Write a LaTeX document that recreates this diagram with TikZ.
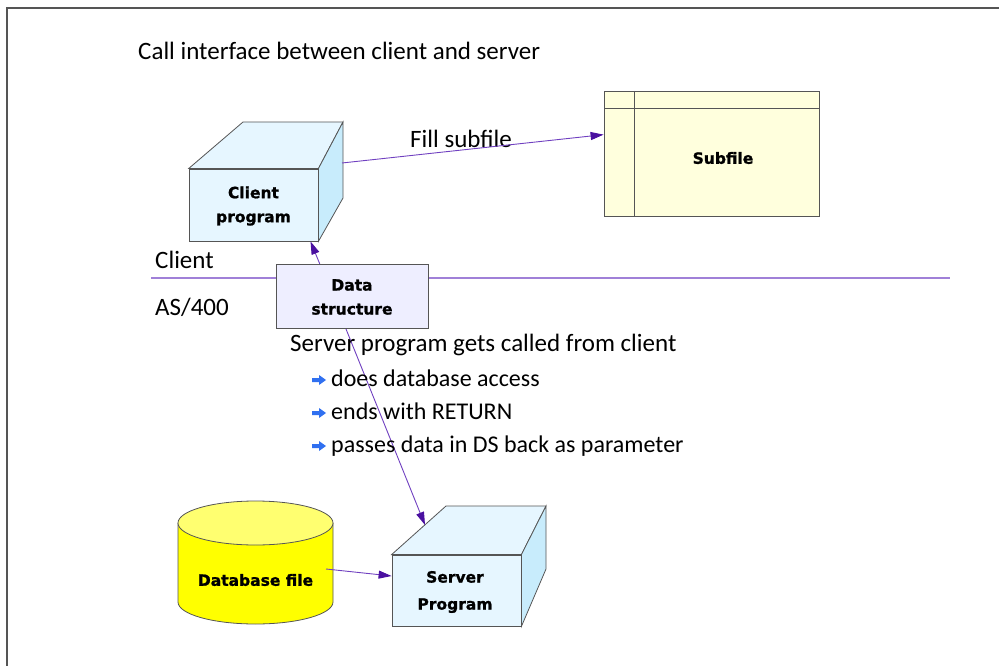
\documentclass[tikz,border=0pt]{standalone}
\usepackage{fontspec}
\usetikzlibrary{arrows.meta,calc}
\newfontfamily\hfont{Carlito}
\newfontfamily\bfont{DejaVu Sans}[BoldFeatures={FakeBold=1.2}]
\definecolor{frame}{HTML}{555555}
\definecolor{boxfront}{HTML}{E6F6FF}
\definecolor{boxside}{HTML}{C8ECFC}
\definecolor{dsfill}{HTML}{EEEEFF}
\definecolor{subfill}{HTML}{FFFFDD}
\definecolor{dbtop}{HTML}{FFFF70}
\definecolor{dbbody}{HTML}{FFFF00}
\definecolor{conn}{HTML}{7040C0}
\definecolor{tip}{HTML}{4A10A0}
\definecolor{divline}{HTML}{A080D8}
\definecolor{bullet}{HTML}{3070F0}
\tikzset{
  edge/.style={draw=frame, line width=0.8pt},
  connector/.style={draw=conn, line width=0.9pt, -{Triangle[length=13pt,width=8pt,fill=tip,color=tip]}},
  boxtext/.style={font={\bfont\bfseries\fontsize{15.5}{24}\selectfont}, align=center, text=black},
  bigtext/.style={font={\hfont\fontsize{25}{30}\selectfont}, anchor=base west, inner sep=0pt},
  smalltext/.style={font={\hfont\fontsize{24}{28}\selectfont}, anchor=base west, inner sep=0pt},
  bul/.style={fill=bullet, draw=none}
}
\newcommand{\bularrow}[2]{%
  \fill[bul] (#1,#2+-2) -- (#1+7,#2+-2) -- (#1+7,#2+-5) -- (#1+14,#2) -- (#1+7,#2+5) -- (#1+7,#2+2) -- (#1,#2+2) -- cycle;}
\begin{document}
\begin{tikzpicture}[x=1pt,y=-1pt]
\useasboundingbox (0,0) rectangle (999,666);
% frame
\draw[frame, line width=1.5pt] (7,666) -- (7,8) -- (999,8);

% title
\node[bigtext] (title) at (138,60) {Call interface between client and server};

% client program box
\node[edge, fill=boxfront, minimum width=129, minimum height=72, inner sep=0pt] (client) at (253.5,205) {};
\filldraw[edge, fill=boxfront] (client.north west) -- (243,122) -- (343,122) -- (client.north east) -- cycle;
\filldraw[edge, fill=boxside] (client.north east) -- (343,122) -- (343,198) -- (client.south east) -- cycle;
\node[boxtext] at (253.5,206) {Client\\program};

% subfile
\node[edge, fill=subfill, minimum width=215, minimum height=125, inner sep=0pt] (subfile) at (711.5,153.5) {};
\draw[edge] (604,108) -- (819,108);
\draw[edge] (634,91) -- (634,216);
\node[boxtext] (subtext) at (723,158) {Subfile};

% divider
\coordinate (divL) at (151,278);
\coordinate (divR) at (950,278);
\draw[divline, line width=1.2pt] (divL) -- (divR);
\node[bigtext] (clientlbl) at (155,268) {Client};
\node[bigtext] (aslbl) at (155,315) {AS/400};

% server program box
\node[edge, fill=boxfront, minimum width=129, minimum height=71, inner sep=0pt] (server) at (456.5,590.5) {};
\filldraw[edge, fill=boxfront] (server.north west) -- (446,506) -- (546,506) -- (server.north east) -- cycle;
\filldraw[edge, fill=boxside] (server.north east) -- (546,506) -- (546,569) -- (server.south east) -- cycle;
\node[boxtext, font={\bfont\bfseries\fontsize{15.5}{27}\selectfont}] at (455,592) {Server\\Program};

% database cylinder
\fill[dbbody] (178,523) -- (178,602) arc[start angle=180, end angle=0, x radius=77.5, y radius=22] -- (333,523) -- cycle;
\draw[edge] (178,523) -- (178,602) arc[start angle=180, end angle=0, x radius=77.5, y radius=22] -- (333,523);
\filldraw[edge, fill=dbtop] (255.5,523) ellipse[x radius=77.5, y radius=22];
\node[boxtext] (db) at (255.5,580) {Database file};
\coordinate (dbout) at (326,569);

% connectors
\coordinate (clientout) at (342,163);
\node[bigtext] (filllbl) at (410,148) {Fill subfile};
\draw[connector] (clientout) -- ($(subfile.north west)!0.35!(subfile.south west)$);
\draw[connector] (dbout) -- ([yshift=14.5pt]server.west);

% data structure (drawn with its connectors)
\coordinate (dstop) at (319.8,264);
\coordinate (dsbot) at (345.6,328);
\coordinate (servertop) at (425,525);
\draw[connector] (dstop) -- ([xshift=57pt]client.south);
\draw[connector] (dsbot) -- (servertop);
\node[edge, fill=dsfill, minimum width=152, minimum height=64, inner sep=0pt] (ds) at (352,296) {};
\node[boxtext] at (352,297) {Data\\structure};

% server text
\node[bigtext] (srvtitle) at (290,351) {Server program gets called from client};
\bularrow{312}{380}
\node[smalltext] (b1) at (331,386) {does database access};
\bularrow{312}{413}
\node[smalltext] (b2) at (331,419) {ends with RETURN};
\bularrow{312}{446}
\node[smalltext] (b3) at (331,452) {passes data in DS back as parameter};
\end{tikzpicture}
\end{document}
